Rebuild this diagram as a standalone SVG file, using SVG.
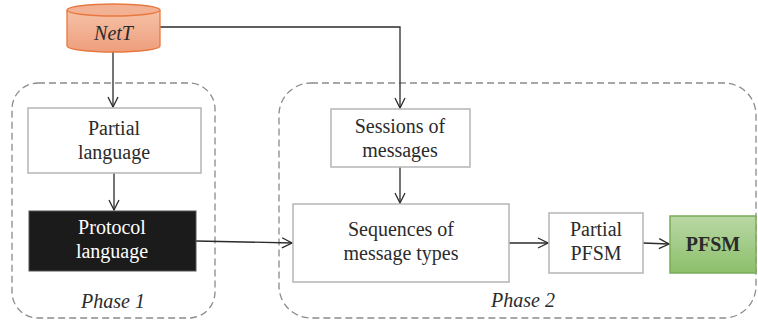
<svg xmlns="http://www.w3.org/2000/svg" width="758" height="320" viewBox="0 0 758 320" font-family="'Liberation Serif', 'DejaVu Serif', serif">
<style>
text{font-family:'Liberation Serif','DejaVu Serif',serif;font-size:20px;fill:#2b2b2b;text-anchor:middle}
.box{fill:#fff;stroke:#b5b5b5;stroke-width:1.5}
.grp{fill:none;stroke:#8a8a8a;stroke-width:1.3;stroke-dasharray:7 4}
.edge{fill:none;stroke:#2b2b2b;stroke-width:1.3;marker-end:url(#ah)}
.it{font-style:italic}
</style>
<defs>
<marker id="ah" viewBox="0 0 12 12" refX="11" refY="6" markerWidth="12" markerHeight="12" markerUnits="userSpaceOnUse" orient="auto">
<path d="M1,1 L11,6 L1,11" fill="none" stroke="#2b2b2b" stroke-width="1.3"/>
</marker>
<linearGradient id="og" x1="0" y1="0" x2="0" y2="1">
<stop offset="0" stop-color="#f6c2a8"/><stop offset="1" stop-color="#ee9e7c"/>
</linearGradient>
<linearGradient id="gg" x1="0" y1="0" x2="0" y2="1">
<stop offset="0" stop-color="#b9d8a5"/><stop offset="1" stop-color="#8cbf6b"/>
</linearGradient>
</defs>
<g id="phase1">
<rect class="grp" x="12" y="83" width="203" height="235" rx="26"/>
<text class="it" x="113" y="308" font-size="19">Phase 1</text>
</g>
<g id="phase2">
<rect class="grp" x="279" y="83" width="477" height="235" rx="32"/>
<text class="it" x="523" y="307" font-size="19">Phase 2</text>
</g>
<g id="edges">
<path class="edge" d="M113,46 L113,107"/>
<path class="edge" d="M160,27 L400,27 L400,108"/>
<path class="edge" d="M114,173 L114,210"/>
<path class="edge" d="M400,167 L400,203"/>
<path class="edge" d="M196,241 L292,243"/>
<path class="edge" d="M509,243 L548,243"/>
<path class="edge" d="M643,243 L669,244"/>
</g>
<g id="netT">
<path d="M67,10 L67,46 A46.5,6 0 0 0 160,46 L160,10" fill="url(#og)" stroke="#e8783f" stroke-width="1.3"/>
<ellipse cx="113.5" cy="10" rx="46.5" ry="6" fill="#f3b193" stroke="#e8783f" stroke-width="1.3"/>
<text class="it" x="113.5" y="40">NetT</text>
</g>
<g id="partialLanguage">
<rect class="box" x="28" y="108" width="173" height="65"/>
<text x="114" y="135">Partial</text>
<text x="114" y="159">language</text>
</g>
<g id="protocolLanguage">
<rect x="29" y="211" width="167" height="60" fill="#1b1b1b" stroke="#555" stroke-width="1"/>
<text x="112" y="234" style="fill:#fff">Protocol</text>
<text x="112" y="258" style="fill:#fff">language</text>
</g>
<g id="sessions">
<rect class="box" x="331" y="109" width="139" height="58"/>
<text x="400" y="133">Sessions of</text>
<text x="400" y="157">messages</text>
</g>
<g id="sequences">
<rect class="box" x="293" y="204" width="216" height="78"/>
<text x="401" y="236">Sequences of</text>
<text x="401" y="260">message types</text>
</g>
<g id="partialPFSM">
<rect class="box" x="549" y="213" width="94" height="60"/>
<text x="596" y="236">Partial</text>
<text x="596" y="260">PFSM</text>
</g>
<g id="pfsm">
<rect x="670" y="216" width="86" height="57" fill="url(#gg)" stroke="#78ac58" stroke-width="1.5"/>
<text x="713" y="251" font-weight="bold">PFSM</text>
</g>
</svg>
